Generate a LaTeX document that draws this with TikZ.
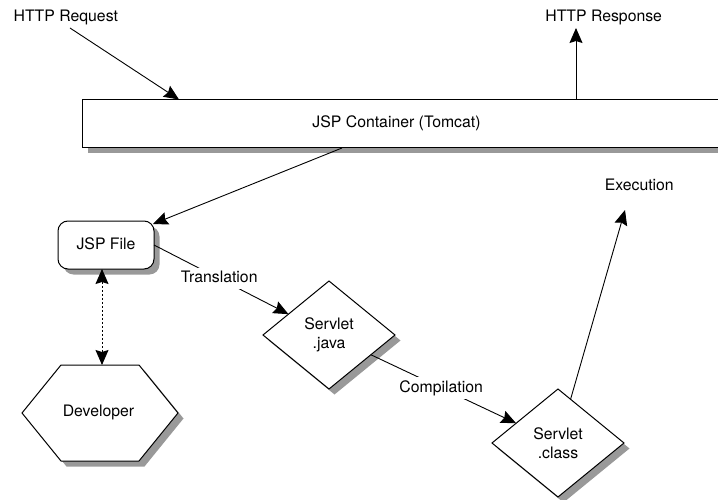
\documentclass[tikz,border=0pt]{standalone}
\usepackage{fontspec}
\setmainfont{TeX Gyre Heros}
\usetikzlibrary{arrows.meta,shapes.geometric,shadows}
\definecolor{shadowgray}{RGB}{153,153,153}
\begin{document}
\begin{tikzpicture}[x=1pt,y=-1pt,
  font=\fontsize{15.8}{19}\selectfont,
  every node/.style={inner sep=0pt, outer sep=0pt},
  txt/.style={anchor=base},
  boxshadow/.style={drop shadow={shadow xshift=5.5pt, shadow yshift=-5.5pt, fill=shadowgray, opacity=1}},
  shape line/.style={draw=black, line width=1pt, fill=white},
  container/.style={shape line, boxshadow, rectangle, minimum width=648pt, minimum height=48.5pt},
  filebox/.style={shape line, boxshadow, rectangle, rounded corners=10pt,
    minimum width=96pt, minimum height=48pt, text height=11.5pt, text depth=3pt},
  artifact/.style={shape line, boxshadow, diamond, minimum width=132pt, minimum height=108pt, align=center},
  tipshape/.style={Stealth[length=15pt,width=13pt,inset=2pt]},
  flow/.style={line width=0.9pt, -{Stealth[length=15pt,width=13pt,inset=2pt]}},
  edit/.style={line width=0.9pt, dash pattern=on 2pt off 2pt,
    {Stealth[length=15pt,width=13pt,inset=2pt]}-{Stealth[length=15pt,width=13pt,inset=2pt]}},
  lbl/.style={fill=white, inner sep=3.5pt, text height=11.5pt, text depth=3pt}
]
\useasboundingbox (0,0) rectangle (718,500);
\clip (0,0) rectangle (718,500);

% container bar running off the right edge
\node[container] (tc) at (406,123.75) {};
\node[txt] (tclabel) at (396.5,127.5) {JSP Container (Tomcat)};

% request / response labels
\node[txt] (req) at (65.8,21.5) {HTTP Request};
\node[txt] (resp) at (603.7,21.5) {HTTP Response};

% source file, generated artifacts, developer
\node[filebox] (jsp) at (106,245) {JSP File};
\node[artifact] (sj) at (329,335) {Servlet\\.java};
\node[artifact] (sc) at (558,443) {Servlet\\.class};
\node[txt] (exec) at (639.3,190) {Execution};

\draw[shape line, boxshadow] (22,413) -- (61,365) -- (139,365) -- (178,413) -- (139,461) -- (61,461) -- cycle;
\node[txt] (dev) at (98.5,416) {Developer};

% free ends of connectors
\coordinate (reqtail) at (70,28);
\coordinate (reqhead) at (179,99.5);
\coordinate (resptip) at (576,28);
\coordinate (tcout) at (342,148);
\coordinate (jspin) at (153,224);
\coordinate (devtop) at (102,365);
\coordinate (exectip) at (625,210);

% connectors
\draw[flow] (reqtail) -- (reqhead);
\draw[flow] (resptip |- tc.north) -- (resptip);
\draw[flow] (tcout) -- (jspin);
\draw[edit] (jsp.south -| devtop) -- (devtop);
\draw[flow] (jsp.east) -- node[lbl, pos=0.485] (trans) {Translation} (sj);
\draw[flow] (sj) -- node[lbl, pos=0.484] (comp) {Compilation} (sc);
\draw[flow] (sc) -- (exectip);
\end{tikzpicture}
\end{document}
